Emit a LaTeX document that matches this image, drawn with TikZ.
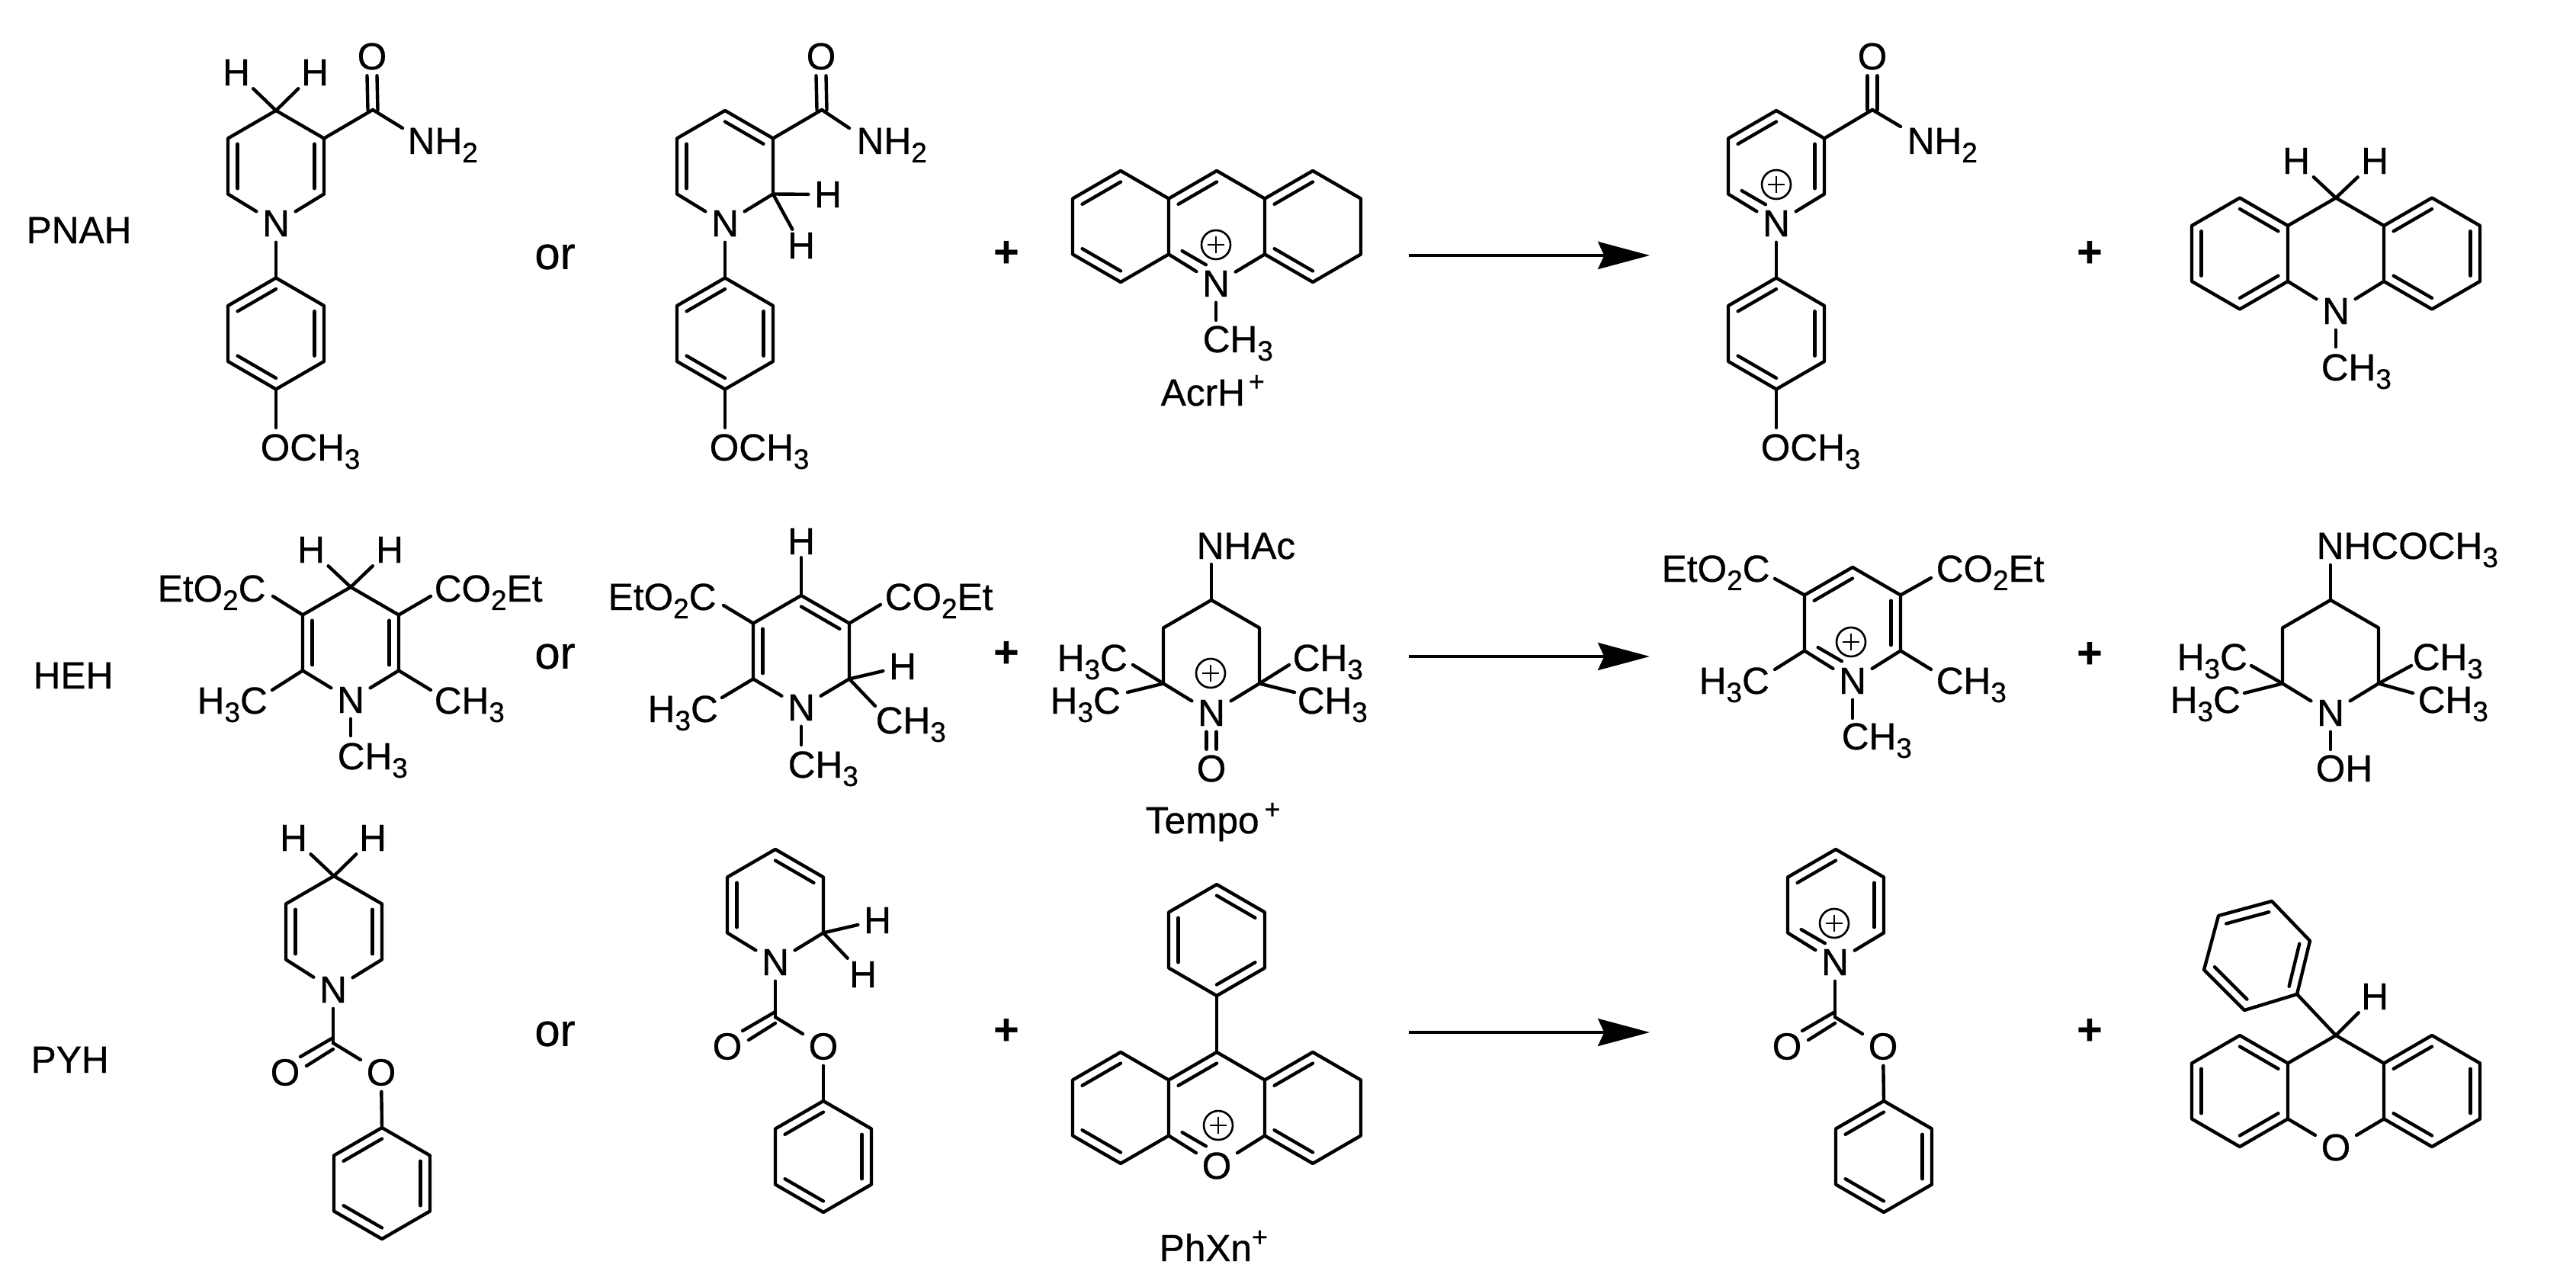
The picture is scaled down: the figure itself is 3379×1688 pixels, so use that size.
\documentclass[tikz,border=0pt]{standalone}
\usepackage{fontspec}
\setmainfont{Liberation Sans}[FakeBold=0.6]
\usetikzlibrary{calc,arrows.meta}
\newfontfamily\boldplus{Liberation Sans Bold}
\newcounter{stubc}
\newcommand\su[1]{\raisebox{-.22em}{\fontsize{10.5}{11}\selectfont #1}}
\newcommand\upp[1]{\raisebox{.39em}{\fontsize{10.2}{11}\selectfont #1}}
% ring vertices: 1 top, 2 upper right, 3 lower right, 4 bottom, 5 lower left, 6 upper left, 0 centre
\newcommand\hexr[3]{%
  \coordinate (#10) at (#2,#3);
  \coordinate (#11) at (#2,#3-73);
  \coordinate (#12) at (#2+63,#3-36.5);
  \coordinate (#13) at (#2+63,#3+36.5);
  \coordinate (#14) at (#2,#3+73);
  \coordinate (#15) at (#2-63,#3+36.5);
  \coordinate (#16) at (#2-63,#3-36.5);}
\newcommand\fullr[1]{\draw[bond] (#11)--(#12)--(#13)--(#14)--(#15)--(#16)--cycle;}
\newcommand\dbl[3]{\draw[bond] ($(#1#2)!.2!(#10)$) -- ($(#1#3)!.2!(#10)$);}
% inner line of a double bond that ends at a hetero atom
\newcommand\dblh[3]{\draw[bond] ($($(#1#2)!.2!(#10)$)!.1!($(#1#3)!.2!(#10)$)$) -- ($($(#1#2)!.2!(#10)$)!.72!($(#1#3)!.2!(#10)$)$);}
\newcommand\stub[3]{\stepcounter{stubc}\coordinate (s\arabic{stubc}) at (#2,#3); \draw[bond] (#1) -- (s\arabic{stubc});}
% C=O pair of vertical lines
\newcommand\vdbl[2]{\draw[bond] ($(#1)+(-6.5,0)$) -- ($(#2)+(-6.5,0)$); \draw[bond] ($(#1)+(6.5,0)$) -- ($(#2)+(6.5,0)$);}
% carbamate group
\newcommand\carb[3]{%
  \coordinate (#1C) at (#2,#3);
  \node[atom] (#1L) at (#2-63,#3+38.5) {O};
  \node[atom] (#1R) at (#2+63,#3+38.5) {O};
  \draw[bond] (#2,#3-7) -- (#2-43,#3+18);
  \draw[bond] (#2,#3+8) -- (#2-35,#3+30);
  \draw[bond] (#1C) -- (#1R);}
\tikzset{
  x=0.01cm,y=-0.01cm,
  bond/.style={line width=1.25pt,line cap=round,line join=round,black},
  atom/.style={inner sep=2pt,font=\fontsize{14.1}{14}\selectfont},
  hatom/.style={atom,inner xsep=2pt,inner ysep=1pt},
  lab/.style={inner sep=0pt,anchor=base west,xshift=-.85pt,font=\fontsize{14.1}{14}\selectfont},
  ortext/.style={inner sep=0pt,font=\fontsize{17}{17}\selectfont},
  bigplus/.style={inner sep=0pt,yshift=-.85pt,font=\fontsize{16.5}{16.5}\selectfont\boldplus},
  rarrow/.style={line width=1.15pt,-{Stealth[length=19.3pt,width=10.2pt,inset=2.3pt]}},
  chg/.style={circle,draw,line width=.75pt,inner sep=0pt,minimum size=10.8pt,
    path picture={\draw[line width=.65pt]
      ([xshift=-3.1pt]path picture bounding box.center) -- ([xshift=3.1pt]path picture bounding box.center)
      ([yshift=-3.1pt]path picture bounding box.center) -- ([yshift=3.1pt]path picture bounding box.center);}},
}
\begin{document}
\begin{tikzpicture}
\useasboundingbox (0,0) rectangle (3379,1688);
\fill[white] (0,0) rectangle (3379,1688);

%% ---------- row 1 ----------
\node[lab] (tPNAH) at (37,319) {PNAH};
% molecule 1
\hexr{A}{362}{218}\hexr{B}{362}{437.5}
\node[atom] (na) at (362,293) {N};
\draw[bond] (na)--(A5)--(A6)--(A1)--(A2)--(A3)--(na);
\dbl{A}{5}{6}\dbl{A}{2}{3}
\node[hatom] (ha1) at (310,95) {H};
\node[hatom] (ha2) at (413,95) {H};
\draw[bond] (A1)--(ha1); \draw[bond] (A1)--(ha2);
\coordinate (ca) at (489,144);
\node[atom] (oa) at (488,74) {O};
\draw[bond] (A2)--(ca);
\vdbl{ca}{oa.south}
\stub{ca}{528}{168}
\node[lab] (la1) at (537,202) {NH\su{2}};
\draw[bond] (na)--(B1);
\fullr{B}\dbl{B}{1}{6}\dbl{B}{2}{3}\dbl{B}{4}{5}
\stub{B4}{362}{561}
\node[lab] (la2) at (344,604) {OCH\su{3}};
\node[ortext] (or1) at (728,337) {or};
% molecule 2
\hexr{C}{951}{218}\hexr{D}{951}{437.5}
\node[atom] (nb) at (951,293) {N};
\draw[bond] (nb)--(C5)--(C6)--(C1)--(C2)--(C3)--(nb);
\dbl{C}{5}{6}\dbl{C}{1}{2}
\node[hatom] (hb1) at (1086,255) {H};
\node[hatom] (hb2) at (1051,322) {H};
\draw[bond] (C3)--(hb1); \draw[bond] (C3)--(hb2);
\coordinate (cb) at (1078,144);
\node[atom] (ob) at (1077,74) {O};
\draw[bond] (C2)--(cb);
\vdbl{cb}{ob.south}
\stub{cb}{1114}{168}
\node[lab] (lb1) at (1126,202) {NH\su{2}};
\draw[bond] (nb)--(D1);
\fullr{D}\dbl{D}{1}{6}\dbl{D}{2}{3}\dbl{D}{4}{5}
\stub{D4}{951}{561}
\node[lab] (lb2) at (933,604) {OCH\su{3}};
\node[bigplus] (p1) at (1320,330) {+};
% AcrH+
\hexr{E}{1470}{297}\hexr{F}{1596}{297}\hexr{G}{1722}{297}
\node[atom] (nc) at (1595,372) {N};
\fullr{E}\fullr{G}
\draw[bond] (nc)--(F5); \draw[bond] (F6)--(F1)--(F2); \draw[bond] (F3)--(nc);
\dbl{E}{1}{6}\dbl{E}{4}{5}\dbl{G}{1}{6}\dbl{G}{4}{5}\dbl{F}{1}{6}\dblh{F}{5}{4}
\node[chg] (cc) at (1595,321) {};
\stub{nc}{1595}{420}
\node[lab] (lc1) at (1580,462) {CH\su{3}};
\node[lab] (lc2) at (1525,532) {AcrH\kern.1em\upp{+}};
\coordinate (a1s) at (1848,335); \coordinate (a1e) at (2164,335);
\draw[rarrow] (a1s)--(a1e);
% product 1
\hexr{H}{2330}{218}\hexr{I}{2330}{437.5}
\node[atom] (nd) at (2330,293) {N};
\draw[bond] (nd)--(H5)--(H6)--(H1)--(H2)--(H3)--(nd);
\dbl{H}{6}{1}\dbl{H}{2}{3}\dblh{H}{5}{4}
\node[chg] (cd) at (2330,242) {};
\coordinate (cdd) at (2456,144);
\node[atom] (od) at (2456,74) {O};
\draw[bond] (H2)--(cdd);
\vdbl{cdd}{od.south}
\stub{cdd}{2493}{166}
\node[lab] (ld1) at (2504,202) {NH\su{2}};
\draw[bond] (nd)--(I1);
\fullr{I}\dbl{I}{1}{6}\dbl{I}{2}{3}\dbl{I}{4}{5}
\stub{I4}{2330}{561}
\node[lab] (ld2) at (2312,604) {OCH\su{3}};
\node[bigplus] (p2) at (2741,330) {+};
% acridane
\hexr{J}{2938}{332.5}\hexr{K}{3064}{332.5}\hexr{L}{3190}{332.5}
\node[atom] (ne) at (3064,408) {N};
\fullr{J}\fullr{L}
\draw[bond] (K6)--(K1)--(K2);
\draw[bond] (K5)--(ne); \draw[bond] (K3)--(ne);
\dbl{J}{1}{2}\dbl{J}{5}{6}\dbl{J}{3}{4}
\dbl{L}{1}{6}\dbl{L}{2}{3}\dbl{L}{4}{5}
\node[hatom] (he1) at (3012,211) {H};
\node[hatom] (he2) at (3115,211) {H};
\draw[bond] (K1)--(he1); \draw[bond] (K1)--(he2);
\stub{ne}{3064}{455}
\node[lab] (le1) at (3047,499) {CH\su{3}};

%% ---------- row 2 ----------
\node[lab] (tHEH) at (46,903) {HEH};
% molecule 3
\hexr{M}{460}{843}
\node[atom] (nf) at (460,918) {N};
\draw[bond] (nf)--(M5)--(M6)--(M1)--(M2)--(M3)--(nf);
\dbl{M}{5}{6}\dbl{M}{2}{3}
\node[hatom] (hf1) at (408,721) {H};
\node[hatom] (hf2) at (511,721) {H};
\draw[bond] (M1)--(hf1); \draw[bond] (M1)--(hf2);
\stub{M6}{358}{782}\node[lab] (lf1) at (209,789) {EtO\su{2}C};
\stub{M2}{565}{782}\node[lab] (lf2) at (572,789) {CO\su{2}Et};
\stub{M5}{357}{905}\node[lab] (lf3) at (261,936) {H\su{3}C};
\stub{M3}{565}{905}\node[lab] (lf4) at (572,936) {CH\su{3}};
\stub{nf}{460}{965}\node[lab] (lf5) at (445,1009) {CH\su{3}};
\node[ortext] (or2) at (728,861) {or};
% molecule 4
\hexr{N}{1051}{854}
\node[atom] (ng) at (1051,928) {N};
\draw[bond] (ng)--(N5)--(N6)--(N1)--(N2)--(N3)--(ng);
\dbl{N}{1}{2}\dbl{N}{5}{6}
\node[hatom] (hg1) at (1051,710) {H};
\node[hatom] (hg2) at (1184,874) {H};
\draw[bond] (N1)--(hg1); \draw[bond] (N3)--(hg2);
\stub{N6}{949}{794}\node[lab] (lg1) at (800,800) {EtO\su{2}C};
\stub{N2}{1155}{793}\node[lab] (lg2) at (1163,800) {CO\su{2}Et};
\stub{N5}{947}{915}\node[lab] (lg3) at (852,947) {H\su{3}C};
\stub{N3}{1148}{926}\node[lab] (lg4) at (1151,962) {CH\su{3}};
\stub{ng}{1051}{977}\node[lab] (lg5) at (1036,1020) {CH\su{3}};
\node[bigplus] (p3) at (1320,855) {+};
% Tempo+
\hexr{O}{1589}{860}
\node[atom] (nh) at (1589,935) {N};
\draw[bond] (nh)--(O5)--(O6)--(O1)--(O2)--(O3)--(nh);
\node[chg] (ch) at (1588,883) {};
\stub{O1}{1589}{740}\node[lab] (lh1) at (1572,733) {NHAc};
\stub{O5}{1486}{872}\node[lab] (lh2) at (1389,880) {H\su{3}C};
\stub{O5}{1479}{908}\node[lab] (lh3) at (1380,936) {H\su{3}C};
\stub{O3}{1691}{872}\node[lab] (lh4) at (1698,880) {CH\su{3}};
\stub{O3}{1698}{908}\node[lab] (lh5) at (1704,936) {CH\su{3}};
\node[atom] (oh) at (1589,1008) {O};
\vdbl{nh.south}{oh.north}
\node[lab] (lh6) at (1505,1093) {Tempo\kern.14em\upp{+}};
\coordinate (a2s) at (1848,861); \coordinate (a2e) at (2164,861);
\draw[rarrow] (a2s)--(a2e);
% product 2
\hexr{P}{2430}{817}
\node[atom] (ni) at (2430,893) {N};
\draw[bond] (ni)--(P5)--(P6)--(P1)--(P2)--(P3)--(ni);
\dbl{P}{6}{1}\dbl{P}{2}{3}\dblh{P}{5}{4}
\node[chg] (ci) at (2428,842) {};
\stub{P6}{2328}{759}\node[lab] (li1) at (2182,763) {EtO\su{2}C};
\stub{P2}{2533}{758}\node[lab] (li2) at (2542,763) {CO\su{2}Et};
\stub{P5}{2328}{878}\node[lab] (li3) at (2231,910) {H\su{3}C};
\stub{P3}{2533}{878}\node[lab] (li4) at (2542,910) {CH\su{3}};
\stub{ni}{2430}{942}\node[lab] (li5) at (2418,983) {CH\su{3}};
\node[bigplus] (p4) at (2741,856) {+};
% reduced Tempo
\hexr{Q}{3057}{860}
\node[atom] (nj) at (3057,935) {N};
\draw[bond] (nj)--(Q5)--(Q6)--(Q1)--(Q2)--(Q3)--(nj);
\stub{Q1}{3057}{741}\node[lab] (lj1) at (3041,733) {NHCOCH\su{3}};
\stub{Q5}{2953}{873}\node[lab] (lj2) at (2858,879) {H\su{3}C};
\stub{Q5}{2944}{909}\node[lab] (lj3) at (2849,935) {H\su{3}C};
\stub{Q3}{3163}{873}\node[lab] (lj4) at (3167,879) {CH\su{3}};
\stub{Q3}{3165}{909}\node[lab] (lj5) at (3174,935) {CH\su{3}};
\stub{nj}{3057}{983}\node[lab] (lj6) at (3040,1025) {OH};

%% ---------- row 3 ----------
\node[lab] (tPYH) at (43,1407) {PYH};
% molecule 5
\hexr{R}{438}{1222}\hexr{S}{501}{1552}
\node[atom] (nk) at (437,1298) {N};
\draw[bond] (nk)--(R5)--(R6)--(R1)--(R2)--(R3)--(nk);
\dbl{R}{5}{6}\dbl{R}{2}{3}
\node[hatom] (hk1) at (385,1099) {H};
\node[hatom] (hk2) at (489,1099) {H};
\draw[bond] (R1)--(hk1); \draw[bond] (R1)--(hk2);
\carb{k}{437}{1368}
\draw[bond] (nk)--(kC);
\draw[bond] (kR)--(S1);
\fullr{S}\dbl{S}{1}{6}\dbl{S}{2}{3}\dbl{S}{4}{5}
\node[ortext] (or3) at (728,1356) {or};
% molecule 6
\hexr{T}{1017}{1187}\hexr{U}{1080}{1517}
\node[atom] (nl) at (1017,1262) {N};
\draw[bond] (nl)--(T5)--(T6)--(T1)--(T2)--(T3)--(nl);
\dbl{T}{1}{2}\dbl{T}{5}{6}
\node[hatom] (hl1) at (1151,1207) {H};
\node[hatom] (hl2) at (1132,1278) {H};
\draw[bond] (T3)--(hl1); \draw[bond] (T3)--(hl2);
\carb{l}{1017}{1334}
\draw[bond] (nl)--(lC);
\draw[bond] (lR)--(U1);
\fullr{U}\dbl{U}{1}{6}\dbl{U}{2}{3}\dbl{U}{4}{5}
\node[bigplus] (p5) at (1320,1350) {+};
% PhXn+
\hexr{V}{1596}{1233}\hexr{W}{1470}{1453}\hexr{X}{1596}{1453}\hexr{Y}{1722}{1453}
\fullr{V}\dbl{V}{1}{2}\dbl{V}{5}{6}\dbl{V}{3}{4}
\draw[bond] (V4)--(X1);
\node[atom] (om) at (1596,1529) {O};
\fullr{W}\fullr{Y}
\draw[bond] (X6)--(X1)--(X2);
\draw[bond] (X5)--(om); \draw[bond] (X3)--(om);
\dbl{W}{1}{6}\dbl{W}{4}{5}\dbl{Y}{1}{6}\dbl{Y}{4}{5}\dbl{X}{1}{6}\dblh{X}{5}{4}
\node[chg] (cm) at (1598,1476) {};
\node[lab] (lm1) at (1523,1654) {PhXn\upp{+}};
\coordinate (a3s) at (1848,1354); \coordinate (a3e) at (2164,1354);
\draw[rarrow] (a3s)--(a3e);
% product 3
\hexr{Z}{2408}{1187}\hexr{AA}{2471}{1517}
\node[atom] (nn) at (2407,1262) {N};
\draw[bond] (nn)--(Z5)--(Z6)--(Z1)--(Z2)--(Z3)--(nn);
\dbl{Z}{6}{1}\dbl{Z}{2}{3}\dblh{Z}{5}{4}
\node[chg] (cn) at (2406,1211) {};
\carb{n}{2407}{1334}
\draw[bond] (nn)--(nC);
\draw[bond] (nR)--(AA1);
\fullr{AA}\dbl{AA}{1}{6}\dbl{AA}{2}{3}\dbl{AA}{4}{5}
\node[bigplus] (p6) at (2741,1350) {+};
% phenylxanthene
\hexr{AB}{2938}{1431}\hexr{AC}{3064}{1431}\hexr{AD}{3190}{1431}
\node[atom] (oo) at (3064,1505) {O};
\fullr{AB}\fullr{AD}
\draw[bond] (AC6)--(AC1)--(AC2);
\draw[bond] (AC5)--(oo); \draw[bond] (AC3)--(oo);
\dbl{AB}{1}{2}\dbl{AB}{5}{6}\dbl{AB}{3}{4}
\dbl{AD}{1}{6}\dbl{AD}{2}{3}\dbl{AD}{4}{5}
\coordinate (AE0) at (2961,1253);
\coordinate (AE1) at (3013,1304);
\coordinate (AE2) at (3030,1234);
\coordinate (AE3) at (2980,1182);
\coordinate (AE4) at (2910,1201);
\coordinate (AE5) at (2891,1272);
\coordinate (AE6) at (2944,1325);
\fullr{AE}\dbl{AE}{3}{4}\dbl{AE}{1}{2}\dbl{AE}{5}{6}
\draw[bond] (AC1)--(AE1);
\node[hatom] (ho) at (3115,1307) {H};
\draw[bond] (AC1)--(ho);
\end{tikzpicture}
\end{document}
